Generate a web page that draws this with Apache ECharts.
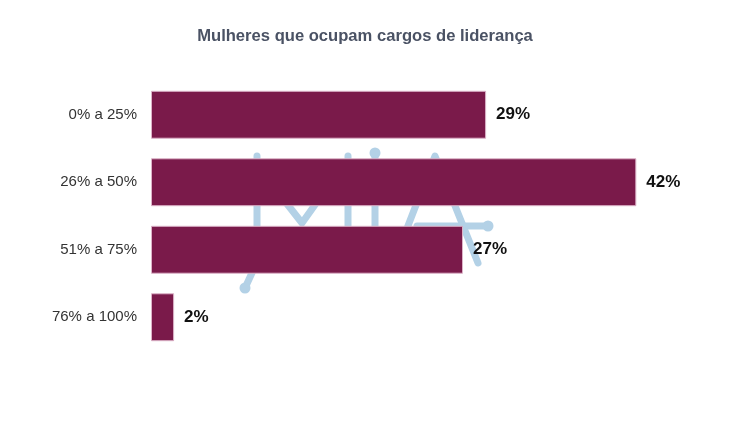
<!DOCTYPE html>
<html>
<head>
<meta charset="utf-8">
<style>
html,body{margin:0;padding:0;background:#fff;}
#chart{width:730px;height:423px;}
</style>
<script src="https://cdn.jsdelivr.net/npm/echarts@6/dist/echarts.min.js"></script>
</head>
<body>
<div id="chart"></div>
<script>
var titleText = 'Mulheres que ocupam cargos de liderança';
var categories = ['0% a 25%', '26% a 50%', '51% a 75%', '76% a 100%'];
var values = [29, 42, 27, 2];

var chart = echarts.init(document.getElementById('chart'));
var wm = '#b3d1e6';
function line(pts){
  return {type:'polyline', z:0, shape:{points:pts}, style:{stroke:wm, lineWidth:7, fill:null, lineCap:'round', lineJoin:'round'}};
}
function dot(x,y){
  return {type:'circle', z:0, shape:{cx:x, cy:y, r:5.5}, style:{fill:wm}};
}
chart.setOption({
  backgroundColor:'#fff',
  title:{
    text:titleText, left:'center', top:23,
    textStyle:{fontFamily:'Liberation Sans, Arial, sans-serif', fontSize:16.6, fontWeight:'bold', color:'#4a5264'}
  },
  graphic:[
    line([[257,156],[257,262],[245,288]]),
    dot(245,288),
    line([[262,172],[302,223],[327,188]]),
    line([[348,156],[348,262]]),
    line([[375,153],[375,262]]),
    dot(375,153),
    line([[394,262],[435,156],[478,263]]),
    line([[417,226],[488,226]]),
    dot(488,226)
  ],
  grid:{left:151, top:81, width:520, height:270, containLabel:false},
  xAxis:{type:'value', min:0, max:45, show:false},
  yAxis:{
    type:'category', data:categories, inverse:true,
    axisLine:{show:false}, axisTick:{show:false},
    axisLabel:{margin:14, fontFamily:'Liberation Sans, Arial, sans-serif', fontSize:15, color:'#333'}
  },
  series:[{
    type:'bar', data:values, barCategoryGap:'29%',
    itemStyle:{color:'#7a1a4a', borderColor:'#dcb3c8', borderWidth:1},
    label:{show:true, position:'right', distance:10, formatter:'{c}%',
      fontFamily:'Liberation Sans, Arial, sans-serif', fontSize:17, fontWeight:'bold', color:'#111'}
  }]
});
</script>
</body>
</html>
